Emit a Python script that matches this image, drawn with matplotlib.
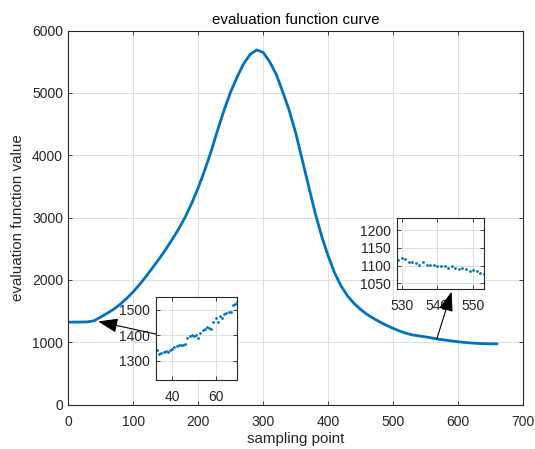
import numpy as np
import matplotlib.pyplot as plt

plt.rcParams['font.family'] = ['Liberation Sans', 'DejaVu Sans']

# main curve, read every 10 sampling points
main_x = np.arange(0, 661, 10)
main_y = [1322, 1322, 1323, 1326, 1345, 1405, 1465, 1530, 1610, 1705,
          1810, 1930, 2060, 2200, 2340, 2490, 2650, 2820, 3010, 3230,
          3480, 3760, 4070, 4410, 4730, 5020, 5260, 5470, 5620, 5690,
          5650, 5500, 5300, 5020, 4720, 4360, 3930, 3500, 3070, 2700,
          2385, 2110, 1900, 1740, 1620, 1525, 1445, 1380, 1322, 1270,
          1222, 1178, 1143, 1116, 1100, 1085, 1066, 1049, 1034, 1020,
          1007, 996, 987, 980, 976, 974, 974]

# zoom 1: samples 33..70
z1_x = np.arange(33, 71)
z1_y = [1344, 1327, 1331, 1335, 1338, 1336, 1341, 1346, 1353, 1359,
        1363, 1362, 1364, 1368, 1390, 1396, 1401, 1397, 1403, 1390,
        1410, 1422, 1425, 1434, 1430, 1425, 1451, 1468, 1453, 1474,
        1469, 1482, 1486, 1491, 1489, 1519, 1521, 1529]

# zoom 2: samples 529..553
z2_x = np.arange(529, 554)
z2_y = [1116, 1120, 1118, 1111, 1111, 1108, 1103, 1109, 1102, 1102,
        1101, 1098, 1098, 1099, 1094, 1099, 1092, 1091, 1094, 1089,
        1086, 1088, 1085, 1080, 1076]

blue = '#0072BD'
dark = '#262626'
grid_c = '#dfdfdf'


def style(ax, fs=10, xpad=7.5, ypad=3.8):
    ax.grid(True, color=grid_c, linewidth=0.7)
    ax.set_axisbelow(True)
    ax.tick_params(direction='in', length=3.2, width=0.6, colors=dark,
                   labelsize=fs, top=True, right=True)
    ax.tick_params(axis='x', pad=xpad)
    ax.tick_params(axis='y', pad=ypad)
    for s in ax.spines.values():
        s.set_color(dark)
        s.set_linewidth(0.8)


fig = plt.figure(figsize=(5.35, 4.49), dpi=100)
ax = fig.add_axes([0.1277, 0.0991, 0.8500, 0.8327])
ax.plot(main_x, main_y, color=blue, linewidth=2.0, solid_capstyle='round')
ax.set_xlim(0, 700)
ax.set_ylim(0, 6000)
ax.set_xticks(range(0, 701, 100))
ax.set_yticks(range(0, 6001, 1000))
style(ax)
ax.set_title('evaluation function curve', fontsize=10.9, color='black', pad=5)
ax.set_xlabel('sampling point', fontsize=10.9, color=dark, labelpad=2)
ax.set_ylabel('evaluation function value', fontsize=10.9, color=dark, labelpad=5)

ax1 = fig.add_axes([0.2921, 0.1543, 0.1514, 0.1835])
ax1.plot(z1_x, z1_y, 'o', color=blue, markersize=2.0, markeredgewidth=0)
ax1.set_xlim(32.6, 70)
ax1.set_ylim(1227, 1548)
ax1.set_xticks([40, 60])
ax1.set_yticks([1300, 1400, 1500])
style(ax1, ypad=4.5)

ax2 = fig.add_axes([0.7426, 0.3563, 0.1620, 0.1575])
ax2.plot(z2_x, z2_y, 'o', color=blue, markersize=2.0, markeredgewidth=0)
ax2.set_xlim(528.8, 553)
ax2.set_ylim(1034, 1233)
ax2.set_xticks([530, 540, 550])
ax2.set_yticks([1050, 1100, 1150, 1200])
style(ax2, ypad=4.5)

arrow = dict(arrowstyle='-|>,head_length=0.6,head_width=0.22', color='black',
             linewidth=0.8, mutation_scale=20, shrinkA=0, shrinkB=0)
ax2.annotate('', xy=(46, 1333), xycoords=ax.transData,
             xytext=(135, 1130), textcoords=ax.transData,
             arrowprops=arrow, annotation_clip=False)
ax2.annotate('', xy=(590, 1810), xycoords=ax.transData,
             xytext=(567, 1045), textcoords=ax.transData,
             arrowprops=arrow, annotation_clip=False)

fig.savefig('out.png', dpi=100)
